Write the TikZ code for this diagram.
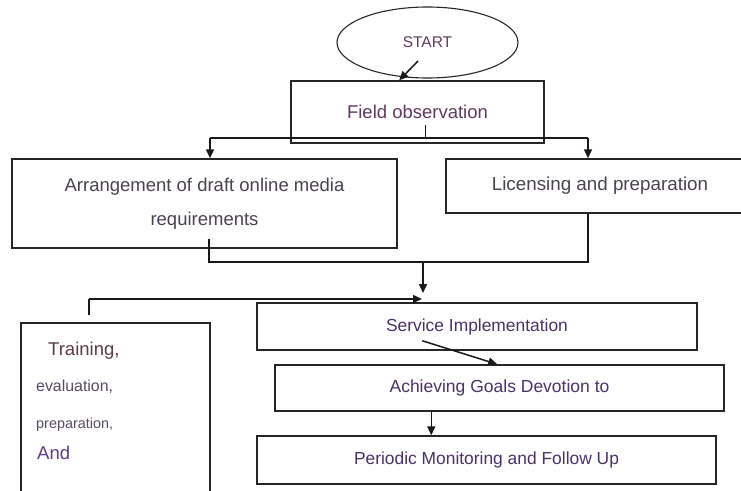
\documentclass[tikz,border=0pt]{standalone}
\usepackage{fontspec}
\setmainfont{Liberation Sans}
\usetikzlibrary{arrows.meta,shapes.geometric,calc}

\definecolor{inkplum}{HTML}{5E3A5C}
\definecolor{inkgrey}{HTML}{4A424E}
\definecolor{inkviolet}{HTML}{4B3168}
\definecolor{inkmaroon}{HTML}{5C3A48}
\definecolor{inkpurple}{HTML}{5E3C88}
\definecolor{inkslate}{HTML}{584A66}

\tikzset{
  box/.style={draw=black!85, line width=1.5pt, rectangle, inner sep=0pt},
  terminal/.style={draw=black!85, line width=1.1pt, ellipse, inner sep=0pt,
    minimum width=181pt, minimum height=71pt},
  link/.style={draw=black!90, line width=1.5pt},
  arr/.style={link, -{Triangle[length=9pt,width=8pt]}},
  fs/.style={font=\fontsize{#1}{#1}\selectfont}
}

\begin{document}
\begin{tikzpicture}[x=1pt,y=-1pt]
\useasboundingbox (0,0) rectangle (741,490);
\clip (0,0) rectangle (741,490);

% start terminal
\node[terminal, text=inkplum, fs=15.5] (start) at (427.5,42.5) {START};

% process boxes
\node[box, minimum width=253pt, minimum height=62pt, text=inkplum, fs=18.5]
  (field) at (417.5,112) {Field observation};
\node[box, minimum width=385pt, minimum height=89pt, text=inkgrey,
  font=\fontsize{18.5}{34}\selectfont, align=center]
  (draft) at (204.5,203.5) {Arrangement of draft online media\\requirements};
\node[box, minimum width=308pt, minimum height=54pt, text=inkgrey, fs=18.8]
  (licence) at (600,186) {Licensing and preparation};
\node[box, minimum width=189pt, minimum height=200pt, anchor=north west]
  (training) at (20,322) {};
\node[box, minimum width=440pt, minimum height=47pt, text=inkviolet, fs=17.4]
  (service) at (477,326.5) {Service Implementation};
\node[box, minimum width=449pt, minimum height=46pt, text=inkviolet, fs=17.5]
  (goals) at (499.5,388) {Achieving Goals Devotion to};
\node[box, minimum width=459pt, minimum height=48pt, text=inkviolet, fs=17.4]
  (monitor) at (486.5,460) {Periodic Monitoring and Follow Up};

% lines of text inside the training box
\node[anchor=mid west, inner sep=0pt, text=inkmaroon, fs=18.5] (t1) at (48,353) {Training,};
\node[anchor=mid west, inner sep=0pt, text=inkslate, fs=15.9] (t2) at (36,389) {evaluation,};
\node[anchor=mid west, inner sep=0pt, text=inkslate, fs=14.4] (t3) at (36,426) {preparation,};
\node[anchor=mid west, inner sep=0pt, text=inkpurple, fs=18.5] (t4) at (37,457) {And};

% junction points
\coordinate (splitL) at (210,138);
\coordinate (splitR) at (588,138);
\coordinate (mergeL) at (209,262);
\coordinate (mergeR) at (588,262);
\coordinate (drop) at (423,262);
\coordinate (sideTop) at (89,299);

% start -> field observation
\draw[arr] ($(start.center)+(-9.5,18.5)$) -- ($(field.north west)+(109,0)$);

% field observation splits into two branches
\draw[link] ($(field.south west)+(135,-19)$) -- ($(field.south west)+(135,-5)$);
\draw[link] (splitL) -- (splitR);
\draw[arr] (splitL) -- (splitL |- draft.north);
\draw[arr] (splitR) -- (splitR |- licence.north);

% both branches merge
\draw[link] (mergeL |- draft.south) ++(0,-10) -- (mergeL) -- (mergeR) -- (mergeR |- licence.south);
\draw[arr] (drop) -- ($(drop)+(0,31)$);

% training feeds into service implementation
\draw[link] (sideTop |- training.north) ++(0,-7) -- (sideTop);
\draw[arr] (sideTop) -- ($(sideTop)+(333,0)$);

% service -> goals -> monitoring
\draw[arr] ($(service.south west)+(166,-10)$) -- ($(goals.north west)+(223,0)$);
\draw[arr] ($(goals.south west)+(157,0)$) -- ($(monitor.north west)+(175,0)$);
\end{tikzpicture}
\end{document}
